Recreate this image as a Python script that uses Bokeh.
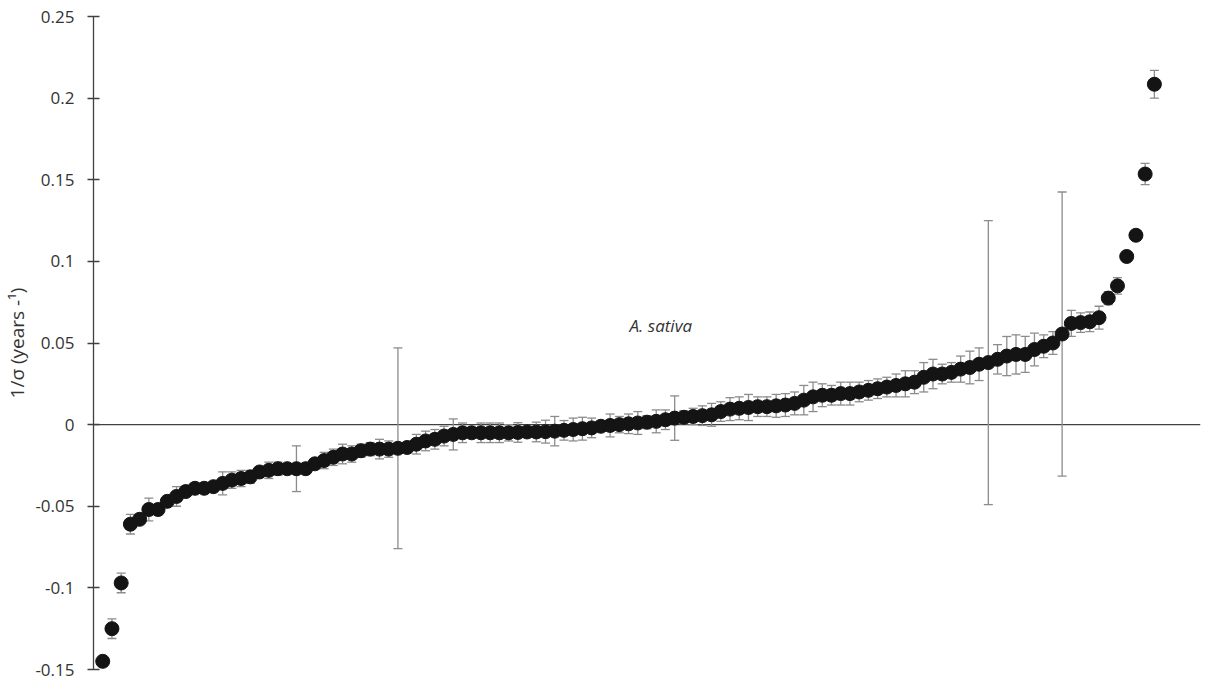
from bokeh.plotting import figure
from bokeh.models import Range1d, FixedTicker, Span, ColumnDataSource
from bokeh.core.properties import value
from bokeh.embed import file_html
from bokeh.resources import INLINE

# ---- data ----
rank = list(range(1, 116))
inv_sigma = [
    -0.145, -0.125, -0.097, -0.061, -0.058, -0.052, -0.052, -0.047, -0.044, -0.041,
    -0.039, -0.039, -0.038, -0.036, -0.034, -0.033, -0.032, -0.029, -0.028, -0.027,
    -0.027, -0.027, -0.027, -0.024, -0.022, -0.020, -0.018, -0.018, -0.016, -0.015,
    -0.015, -0.015, -0.0145, -0.014, -0.012, -0.010, -0.009, -0.007, -0.006, -0.005,
    -0.005, -0.005, -0.005, -0.005, -0.005, -0.0048, -0.0045, -0.0045, -0.0043, -0.004,
    -0.0035, -0.003, -0.0025, -0.002, -0.001, -0.0005, 0.0, 0.0005, 0.001, 0.0015,
    0.002, 0.003, 0.004, 0.0045, 0.005, 0.0055, 0.006, 0.008, 0.0095, 0.010,
    0.0105, 0.011, 0.011, 0.0115, 0.012, 0.013, 0.015, 0.017, 0.018, 0.018,
    0.019, 0.019, 0.020, 0.021, 0.022, 0.023, 0.024, 0.025, 0.026, 0.029,
    0.031, 0.031, 0.032, 0.034, 0.035, 0.037, 0.038, 0.040, 0.042, 0.043,
    0.043, 0.046, 0.048, 0.050, 0.0555, 0.062, 0.0625, 0.063, 0.0655, 0.0775,
    0.085, 0.103, 0.116, 0.1535, 0.2085,
]
err = [
    0.002, 0.006, 0.006, 0.006, 0.003, 0.007, 0.003, 0.003, 0.006, 0.003,
    0.003, 0.003, 0.003, 0.007, 0.005, 0.005, 0.004, 0.003, 0.005, 0.004,
    0.003, 0.014, 0.003, 0.003, 0.005, 0.005, 0.006, 0.005, 0.004, 0.004,
    0.006, 0.005, 0.0615, 0.003, 0.006, 0.006, 0.006, 0.006, 0.0095, 0.006,
    0.003, 0.006, 0.006, 0.006, 0.005, 0.006, 0.003, 0.006, 0.007, 0.009,
    0.006, 0.007, 0.007, 0.006, 0.003, 0.007, 0.005, 0.006, 0.007, 0.004,
    0.007, 0.006, 0.0136, 0.004, 0.005, 0.006, 0.007, 0.006, 0.007, 0.007,
    0.008, 0.006, 0.006, 0.007, 0.007, 0.007, 0.009, 0.009, 0.007, 0.006,
    0.007, 0.007, 0.006, 0.006, 0.006, 0.006, 0.007, 0.008, 0.007, 0.009,
    0.009, 0.006, 0.006, 0.008, 0.010, 0.010, 0.087, 0.009, 0.012, 0.012,
    0.011, 0.010, 0.007, 0.007, 0.087, 0.008, 0.006, 0.006, 0.007, 0.004,
    0.005, 0.001, 0.001, 0.0065, 0.0085,
]
y_ticks = [-0.15, -0.1, -0.05, 0, 0.05, 0.1, 0.15, 0.2, 0.25]
y_tick_labels = ["-0.15", "-0.1", "-0.05", "0", "0.05", "0.1", "0.15", "0.2", "0.25"]
y_label = "1/σ (years -¹)"
note_text = "A. sativa"
note_x = 61.5
note_y = 0.0605

FONT = "Open Sans"

upper = [v + e for v, e in zip(inv_sigma, err)]
lower = [v - e for v, e in zip(inv_sigma, err)]
src = ColumnDataSource(dict(x=rank, y=inv_sigma, upper=upper, lower=lower))

p = figure(width=1207, height=680, output_backend="svg", toolbar_location=None,
           x_range=Range1d(0, 120), y_range=Range1d(-0.15, 0.25),
           min_border_left=93, min_border_right=7, min_border_top=16, min_border_bottom=11,
           x_axis_location=None)
p.outline_line_color = None
p.xgrid.visible = False
p.ygrid.visible = False
p.background_fill_color = "white"
p.border_fill_color = "white"

yax = p.yaxis[0]
yax.ticker = FixedTicker(ticks=y_ticks)
yax.major_label_overrides = {t: l for t, l in zip(y_ticks, y_tick_labels)}
yax.minor_tick_line_color = None
yax.major_tick_in = 6
yax.major_tick_out = 6
yax.axis_line_color = "#404040"
yax.axis_line_width = 1.3
yax.major_tick_line_color = "#404040"
yax.major_tick_line_width = 1.3
yax.major_label_text_font = FONT
yax.major_label_text_font_size = "17px"
yax.major_label_text_color = "#333333"
yax.major_label_standoff = 13
yax.axis_label = y_label
yax.axis_label_text_font = FONT
yax.axis_label_text_font_size = "19px"
yax.axis_label_text_font_style = "normal"
yax.axis_label_text_color = "#333333"
yax.axis_label_standoff = 2

zero = Span(location=0, dimension="width", line_color="#404040", line_width=1.3, level="underlay")
p.add_layout(zero)

# error bars
p.segment(x0="x", y0="lower", x1="x", y1="upper", source=src, line_color="#8c8c8c", line_width=1.3)
p.scatter(x="x", y="upper", source=src, marker="dash", size=9, line_color="#8c8c8c", line_width=1.3)
p.scatter(x="x", y="lower", source=src, marker="dash", size=9, line_color="#8c8c8c", line_width=1.3)

# points
p.scatter(x="x", y="y", source=src, marker="circle", size=14,
          fill_color="#141414", line_color="#141414")

p.text(x=[note_x], y=[note_y], text=[note_text], text_font=value(FONT),
       text_font_style="italic", text_font_size="17px", text_color="#333333",
       text_align="center", text_baseline="middle")

open("out.html", "w").write(file_html(p, INLINE))
